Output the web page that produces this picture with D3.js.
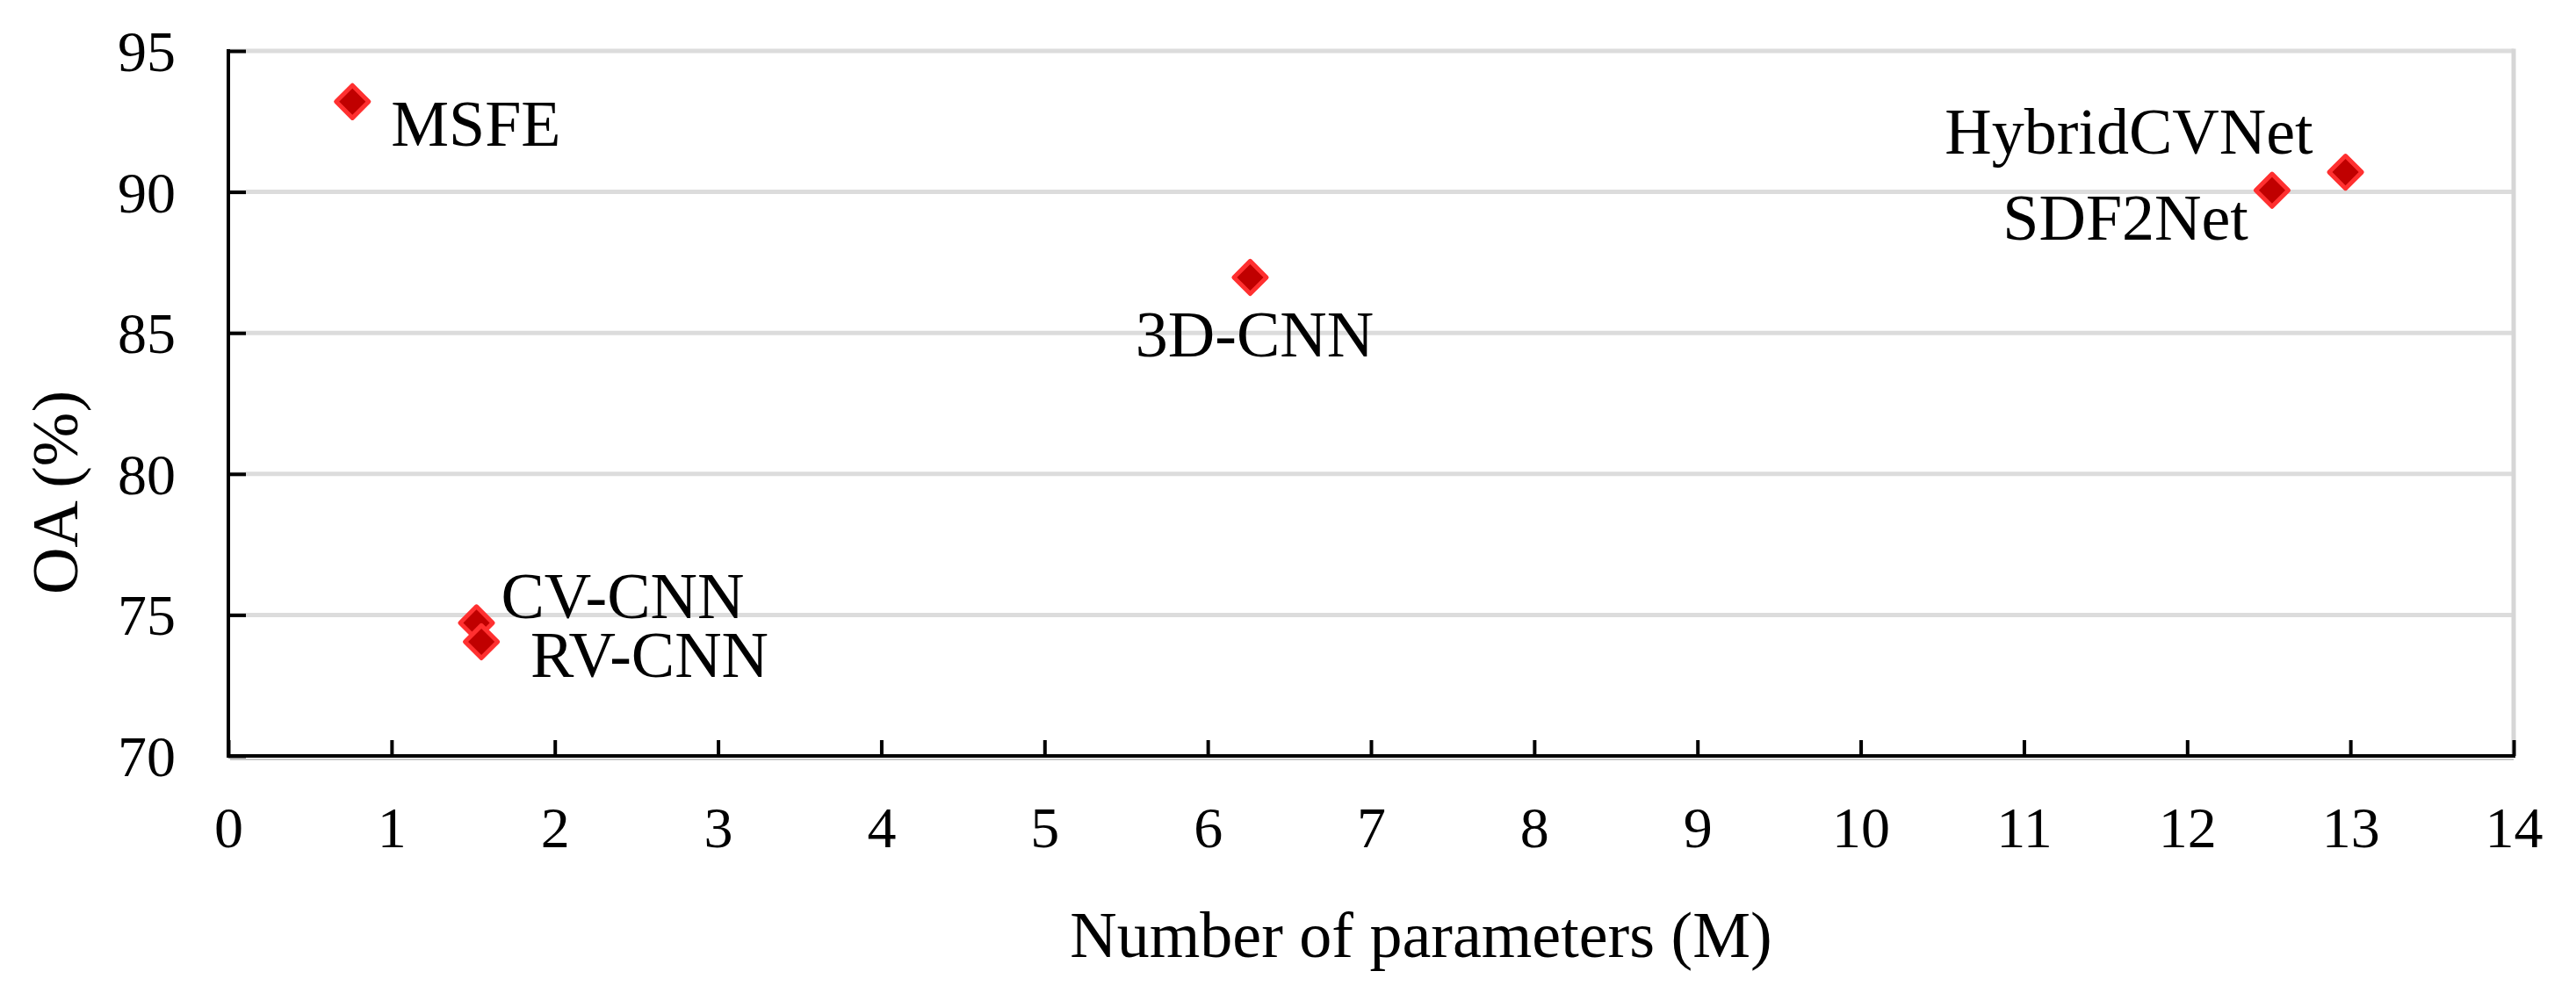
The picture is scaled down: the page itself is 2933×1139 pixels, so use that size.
<!DOCTYPE html>
<html>
<head>
<meta charset="utf-8">
<script src="https://cdn.jsdelivr.net/npm/d3@7"></script>
<style>
  html, body { margin: 0; padding: 0; background: #ffffff; }
  svg { display: block; }
  text { font-family: "Liberation Serif", "Times New Roman", serif; fill: #000; }
</style>
</head>
<body>
<svg id="chart" width="2933" height="1139"></svg>
<script>
// ---- data ----
const models = ["MSFE", "CV-CNN", "RV-CNN", "3D-CNN", "SDF2Net", "HybridCVNet"];
const params = [0.76, 1.52, 1.55, 6.26, 12.52, 12.97];   // Number of parameters (M)
const oa     = [93.2, 74.72, 74.05, 86.97, 90.06, 90.7]; // OA (%)
const xTicks = [0, 1, 2, 3, 4, 5, 6, 7, 8, 9, 10, 11, 12, 13, 14];
const yTicks = [70, 75, 80, 85, 90, 95];
const xTitle = "Number of parameters (M)";
const yTitle = "OA (%)";

// ---- label placement (layout, not data) ----
const labelPos = {
  "MSFE":        { dx: 44,  dy: 50,  anchor: "start" },
  "CV-CNN":      { dx: 28,  dy: -5,  anchor: "start" },
  "RV-CNN":      { dx: 56,  dy: 40,  anchor: "start" },
  "3D-CNN":      { dx: 5,   dy: 90,  anchor: "middle" },
  "SDF2Net":     { dx: -27, dy: 56,  anchor: "end" },
  "HybridCVNet": { dx: -37, dy: -21, anchor: "end" }
};

const svg = d3.select("#chart");
const L = 260, R = 2862, T = 58, B = 861;

const x = d3.scaleLinear().domain([0, 14]).range([L, R]);
const y = d3.scaleLinear().domain([70, 95]).range([B, T]);

// gridlines
const grid = svg.append("g");
grid.selectAll("line.h").data(yTicks.filter(v => v > 70)).join("line")
  .attr("x1", L).attr("x2", R)
  .attr("y1", d => y(d)).attr("y2", d => y(d))
  .attr("stroke", "#dcdcdc").attr("stroke-width", 5);
// right border
grid.append("line")
  .attr("x1", R).attr("x2", R).attr("y1", T - 2.5).attr("y2", B)
  .attr("stroke", "#d6d6d6").attr("stroke-width", 5);

// slight shadow under x axis
svg.append("line")
  .attr("x1", L + 2).attr("x2", R).attr("y1", B + 4).attr("y2", B + 4)
  .attr("stroke", "#c8c8c8").attr("stroke-width", 2);

// x axis
const xAxis = svg.append("g")
  .attr("transform", `translate(0,${B})`)
  .call(d3.axisBottom(x).tickValues(xTicks).tickSize(-18).tickPadding(0).tickFormat(d3.format("d")));
xAxis.select(".domain").attr("stroke", "#000").attr("stroke-width", 4)
  .attr("d", `M${L - 2},0H${R + 2}`);
xAxis.selectAll(".tick line").attr("stroke", "#000").attr("stroke-width", 4);
xAxis.selectAll(".tick text")
  .attr("y", 104).attr("dy", null)
  .style("font-family", "'Liberation Serif', 'Times New Roman', serif")
  .style("font-size", "66px").attr("fill", "#000");

// y axis
const yAxis = svg.append("g")
  .attr("transform", `translate(${L},0)`)
  .call(d3.axisLeft(y).tickValues(yTicks).tickSize(-20).tickPadding(0).tickFormat(d3.format("d")));
yAxis.select(".domain").attr("stroke", "#000").attr("stroke-width", 4)
  .attr("d", `M0,${T - 2}V${B + 2}`);
yAxis.selectAll(".tick line").attr("stroke", "#000").attr("stroke-width", 4);
yAxis.selectAll(".tick text")
  .attr("x", -60).attr("dy", "0.34em")
  .style("font-family", "'Liberation Serif', 'Times New Roman', serif")
  .style("font-size", "66px").attr("fill", "#000");

// points
const pts = models.map((m, i) => ({ name: m, px: params[i], oa: oa[i] }));
const diamond = d3.symbol().type(d3.symbolSquare).size(690);
svg.append("g").selectAll("path").data(pts).join("path")
  .attr("d", diamond)
  .attr("transform", d => `translate(${x(d.px)},${y(d.oa)}) rotate(45)`)
  .attr("fill", "#c00000")
  .attr("stroke", "#ff3030")
  .attr("stroke-width", 5)
  .attr("stroke-linejoin", "round");

// point labels
svg.append("g").selectAll("text").data(pts).join("text")
  .attr("x", d => x(d.px) + labelPos[d.name].dx)
  .attr("y", d => y(d.oa) + labelPos[d.name].dy)
  .attr("text-anchor", d => labelPos[d.name].anchor)
  .style("font-size", "74px")
  .text(d => d.name);

// axis titles
svg.append("text")
  .attr("x", 1618).attr("y", 1090)
  .attr("text-anchor", "middle")
  .style("font-size", "74px")
  .text(xTitle);

svg.append("text")
  .attr("transform", "translate(88,561) rotate(-90)")
  .attr("text-anchor", "middle")
  .style("font-size", "74px")
  .text(yTitle);
</script>
</body>
</html>
